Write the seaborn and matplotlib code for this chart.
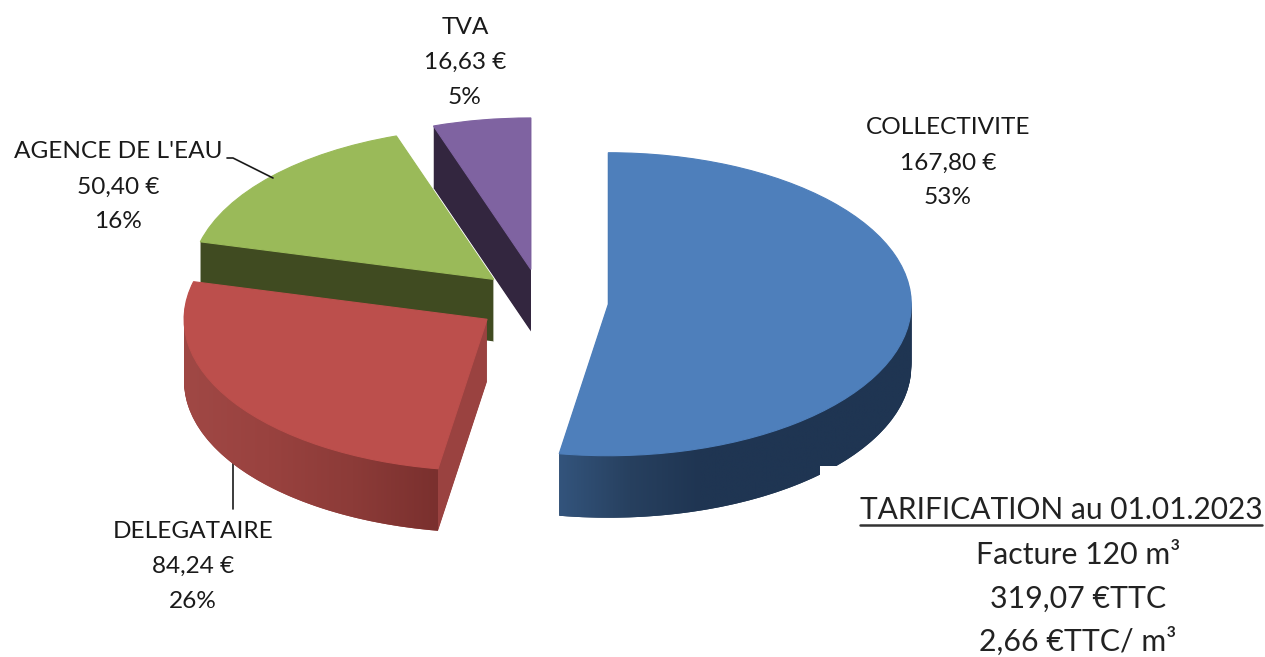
import numpy as np
import seaborn as sns
import matplotlib.pyplot as plt
from matplotlib.patches import PathPatch, Rectangle
from matplotlib.path import Path

# Donnees du graphique
categories = ['COLLECTIVITE', 'DELEGATAIRE', "AGENCE DE L'EAU", 'TVA']
montants = [167.80, 84.24, 50.40, 16.63]
titre_tarif = 'TARIFICATION au 01.01.2023'
lignes_tarif = ['Facture 120 m³', '319,07 €TTC', '2,66 €TTC/ m³']

couleurs = ['#4e7fbb', '#bc4f4c', '#9aba59', '#7f63a1']
couleurs_cote = ['#1f3552', '#9a4240', '#404b21', '#33263f']
ordre_z = [4, 3, 2, 1]

sns.set_theme(style='white')
plt.rcParams['font.family'] = ['Lato', 'DejaVu Sans']

LARGEUR, HAUTEUR = 1265, 657
RAYON = 303
EPAISSEUR = 62
ECARTS = [67, 65, 65, 65]
CENTRE = (541.5, -603)
ENCRE = '#1a1a1a'


# l'axe y vaut -2 x pixel : un cercle devient l'ellipse de la vue en perspective
def py(y):
    return -2 * y


fig = plt.figure(figsize=(LARGEUR / 100, HAUTEUR / 100), dpi=100)
ax = fig.add_axes([0, 0, 1, 1])


def camembert(decalage):
    wedges, _ = ax.pie(montants, radius=RAYON, startangle=90, counterclock=False,
                       explode=ECARTS, center=(CENTRE[0], CENTRE[1] - decalage))
    return wedges


# Epaisseur : la meme tarte empilee vers le bas
for d in range(EPAISSEUR * 2, 0, -2):
    for w, c, z in zip(camembert(d), couleurs_cote, ordre_z):
        w.set(facecolor=c, edgecolor='none', linewidth=0, zorder=z + 0.1)

# Dessus
dessus = camembert(0)
for w, c, z in zip(dessus, couleurs, ordre_z):
    w.set(facecolor=c, edgecolor=c, linewidth=0.8, zorder=z + 0.3)


# Degrade horizontal sur le bord arrondi
def bord_degrade(w, stops, zorder):
    t = np.radians(np.linspace(w.theta1, min(w.theta2, 0 if w.theta2 > 0 else w.theta2), 200))
    t = t[np.sin(t) <= 0]
    x = w.center[0] + w.r * np.cos(t)
    y = w.center[1] + w.r * np.sin(t)
    pts = np.vstack([np.column_stack([x, y]),
                     np.column_stack([x, y - EPAISSEUR * 2])[::-1]])
    patch = PathPatch(Path(np.vstack([pts, pts[:1]]), closed=True), fc='none', ec='none')
    ax.add_patch(patch)
    cmap = sns.blend_palette(stops, as_cmap=True)
    im = ax.imshow(np.linspace(0, 1, 256)[None, :], cmap=cmap, aspect='auto', zorder=zorder,
                   extent=(x.min(), x.max(), y.min() - EPAISSEUR * 2, y.max()))
    im.set_clip_path(patch)


bord_degrade(dessus[0], ['#33547c', '#27405f', '#1f3552', '#1f3552', '#1f3552', '#1f3552'], 4.2)
bord_degrade(dessus[1], ['#a04845', '#99423f', '#8c3b38', '#7a302e'], 3.2)

ax.set_aspect('auto')
ax.set_xlim(0, LARGEUR)
ax.set_ylim(py(HAUTEUR), 0)
ax.axis('off')

# Etiquettes : nom, montant, pourcentage
total = sum(montants)
pos_x = [948, 193, 118, 465]
pos_y = [[127, 163, 198], [531, 566, 602], [152, 187, 222], [27, 62, 97]]
for nom, val, x, ys in zip(categories, montants, pos_x, pos_y):
    lignes = [nom, f'{val:.2f}'.replace('.', ',') + ' €', f'{val / total * 100:.0f}%']
    for txt, y in zip(lignes, ys):
        ax.text(x, py(y), txt, ha='center', va='center', fontsize=17.6, color=ENCRE, zorder=10)

# Traits de rappel
ax.plot([227, 233, 273], [py(158), py(158), py(178)], color=ENCRE, lw=1.2, zorder=2.5)
ax.plot([233, 233], [py(462), py(509)], color=ENCRE, lw=1.2, zorder=2.5)

# Encadre tarification
ax.add_patch(Rectangle((820, py(HAUTEUR)), LARGEUR - 820, py(466) - py(HAUTEUR),
                       fc='white', ec='none', zorder=8))
ax.text(1061, py(510), titre_tarif, ha='center', va='center', fontsize=21.5, color='#222222', zorder=10)
ax.plot([860, 1262], [py(525), py(525)], color='#333333', lw=1.8, zorder=10)
for txt, y in zip(lignes_tarif, [555, 599, 641]):
    ax.text(1078, py(y), txt, ha='center', va='center', fontsize=21.8, color='#222222', zorder=10)

plt.savefig('out.png', dpi=100)
